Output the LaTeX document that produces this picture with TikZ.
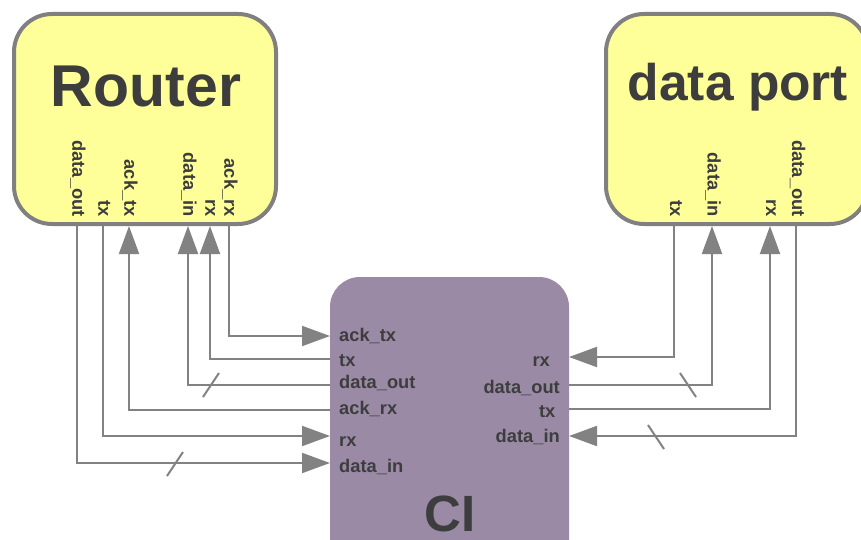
\documentclass[tikz,border=0pt]{standalone}
\usepackage{fontspec}
\setmainfont{Liberation Sans}
\usetikzlibrary{arrows.meta}

\definecolor{boxyellow}{HTML}{FFFF99}
\definecolor{boxedge}{HTML}{808080}
\definecolor{cifill}{HTML}{9A8AA6}
\definecolor{wire}{HTML}{828282}
\definecolor{ink}{HTML}{3D3D3D}

\tikzset{
  block/.style={draw=boxedge, line width=4pt, fill=boxyellow, rounded corners=38pt},
  cibox/.style={fill=cifill, rounded corners=30pt},
  conn/.style={draw=wire, line width=2pt},
  tip/.style={-{Triangle[length=28pt,width=20pt]}},
  slash/.style={draw=wire, line width=2pt},
  portlbl/.style={text=ink, inner sep=0pt, font=\bfseries\fontsize{18.3}{20}\selectfont},
  vlbl/.style={portlbl, rotate=-90, anchor=base east},
  title/.style={text=ink, inner sep=0pt, anchor=base}
}

\begin{document}
\begin{tikzpicture}[x=1pt, y=-1pt]
  \useasboundingbox (0,0) rectangle (861,540);
  \clip (0,0) rectangle (861,540);

  % blocks
  \draw[block] (14,14) rectangle (276,224);
  \draw[block] (606,14) rectangle (868,224);
  \fill[cibox] (330,277) rectangle (569,580);

  % titles
  \node[title, font=\bfseries\fontsize{59}{61}\selectfont] (router) at (146,107) {Router};
  \node[title, font=\bfseries\fontsize{51.5}{53}\selectfont] (dport) at (738,101) {data port};
  \node[title, font=\bfseries\fontsize{51}{53}\selectfont] (ci) at (450,531) {CI};

  % router ports
  \coordinate (r-dout)  at (77,226);
  \coordinate (r-tx)    at (103,226);
  \coordinate (r-acktx) at (129,226);
  \coordinate (r-din)   at (188,226);
  \coordinate (r-rx)    at (210,226);
  \coordinate (r-ackrx) at (229,226);
  \node[vlbl] (lr-dout)  at (72.3,217) {data\_out};
  \node[vlbl] (lr-tx)    at (98.3,217) {tx};
  \node[vlbl] (lr-acktx) at (124.3,217) {ack\_tx};
  \node[vlbl] (lr-din)   at (183.3,217) {data\_in};
  \node[vlbl] (lr-rx)    at (205.3,217) {rx};
  \node[vlbl] (lr-ackrx) at (224.3,217) {ack\_rx};

  % data port ports
  \coordinate (d-tx)   at (674,226);
  \coordinate (d-din)  at (712,226);
  \coordinate (d-rx)   at (770,226);
  \coordinate (d-dout) at (796,226);
  \node[vlbl] (ld-tx)   at (670,217) {tx};
  \node[vlbl] (ld-din)  at (707.5,217) {data\_in};
  \node[vlbl] (ld-rx)   at (766,217) {rx};
  \node[vlbl] (ld-dout) at (792,217) {data\_out};

  % CI left ports
  \coordinate (cl-acktx) at (330,336);
  \coordinate (cl-tx)    at (330,359);
  \coordinate (cl-dout)  at (330,385);
  \coordinate (cl-ackrx) at (330,410);
  \coordinate (cl-rx)    at (330,436);
  \coordinate (cl-din)   at (330,463);
  \node[portlbl, anchor=base west] (lc-acktx) at (339,341) {ack\_tx};
  \node[portlbl, anchor=base west] (lc-tx)    at (339,366.5) {tx};
  \node[portlbl, anchor=base west] (lc-dout)  at (339,388) {data\_out};
  \node[portlbl, anchor=base west] (lc-ackrx) at (339,414) {ack\_rx};
  \node[portlbl, anchor=base west] (lc-rx)    at (339,446.5) {rx};
  \node[portlbl, anchor=base west] (lc-din)   at (339,472.5) {data\_in};

  % CI right ports
  \coordinate (cr-rx)   at (569,357);
  \coordinate (cr-dout) at (569,385);
  \coordinate (cr-tx)   at (569,409);
  \coordinate (cr-din)  at (569,436);
  \node[portlbl, anchor=base east] (rc-rx)   at (550,366.5) {rx};
  \node[portlbl, anchor=base east] (rc-dout) at (560,393) {data\_out};
  \node[portlbl, anchor=base east] (rc-tx)   at (555.5,417) {tx};
  \node[portlbl, anchor=base east] (rc-din)  at (560,442) {data\_in};

  % router <-> CI wiring
  \draw[conn, tip] (r-ackrx) |- (cl-acktx);
  \draw[conn, tip] (cl-tx) -| (r-rx);
  \draw[conn, tip] (cl-dout) -| (r-din);
  \draw[conn, tip] (cl-ackrx) -| (r-acktx);
  \draw[conn, tip] (r-tx) |- (cl-rx);
  \draw[conn, tip] (r-dout) |- (cl-din);

  % CI <-> data port wiring
  \draw[conn, tip] (d-tx) |- (cr-rx);
  \draw[conn, tip] (cr-dout) -| (d-din);
  \draw[conn, tip] (cr-tx) -| (d-rx);
  \draw[conn, tip] (d-dout) |- (cr-din);

  % bus marks
  \coordinate (bus1) at (211,385);
  \coordinate (bus2) at (175,464);
  \coordinate (bus3) at (688,385);
  \coordinate (bus4) at (656,437);
  \draw[slash] (bus1) ++(-8,12) -- ++(16,-24);
  \draw[slash] (bus2) ++(-8,12) -- ++(16,-24);
  \draw[slash] (bus3) ++(-8,-12) -- ++(16,24);
  \draw[slash] (bus4) ++(-8,-12) -- ++(16,24);
\end{tikzpicture}
\end{document}
